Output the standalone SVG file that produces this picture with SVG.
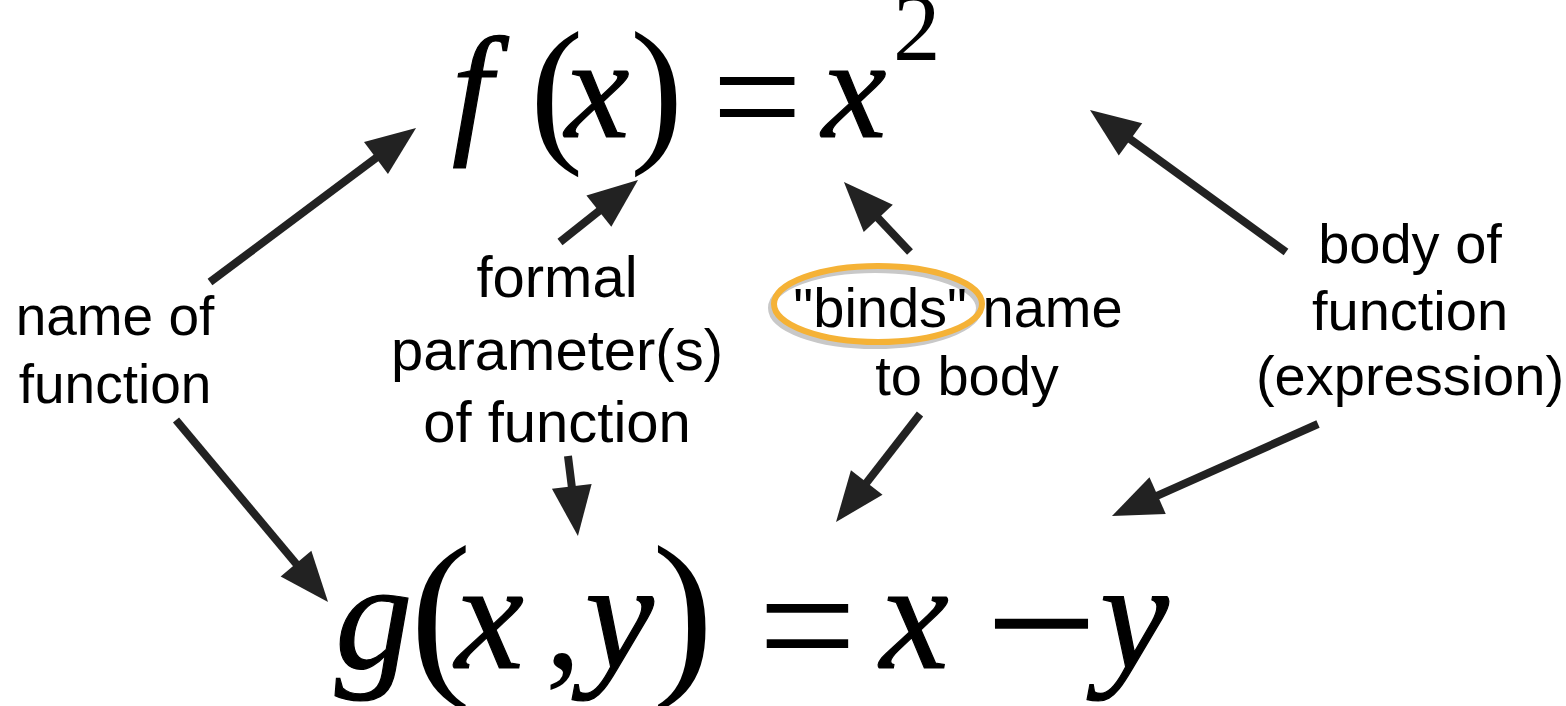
<svg xmlns="http://www.w3.org/2000/svg" width="1566" height="706" viewBox="0 0 1566 706">
<style>
.lbl{font-family:"Liberation Sans",Arial,sans-serif;font-size:56px;fill:#000;text-anchor:middle}
.mi{font-family:"Liberation Serif","Times New Roman",serif;font-style:italic;fill:#000;stroke:#000;stroke-width:1.2}
.mn{font-family:"Liberation Serif","Times New Roman",serif;fill:#000}
.conn{stroke:#222;stroke-width:8;fill:none;marker-end:url(#ah)}
</style>
<defs>
<marker id="ah" viewBox="0 0 50 40" refX="10" refY="20" markerWidth="50" markerHeight="40" markerUnits="userSpaceOnUse" orient="auto" overflow="visible">
<path d="M0,0 L50,20 L0,40 Z" fill="#222"/>
</marker>
</defs>
<rect width="1566" height="706" fill="#fff"/>
<g id="eq-f">
<text class="mi" x="452" y="137" font-size="145">f</text>
<text class="mn" x="530" y="143" font-size="160">(</text>
<text class="mi" x="565" y="137" font-size="145">x</text>
<text class="mn" x="630" y="143" font-size="160">)</text>
<text class="mn" x="712" y="150" font-size="160">=</text>
<text class="mi" x="822" y="137" font-size="145">x</text>
<text class="mn" x="893" y="60" font-size="95">2</text>
</g>
<g id="eq-g">
<text class="mi" x="335" y="668" font-size="155">g</text>
<text class="mn" x="410" y="673" font-size="185">(</text>
<text class="mi" x="455" y="668" font-size="155">x</text>
<text class="mn" x="545" y="668" font-size="145">,</text>
<text class="mi" x="585" y="668" font-size="155">y</text>
<text class="mn" x="652" y="673" font-size="185">)</text>
<text class="mn" x="758" y="684" font-size="175">=</text>
<text class="mi" x="880" y="668" font-size="155">x</text>
<text class="mn" x="985" y="690" font-size="200">−</text>
<text class="mi" x="1100" y="668" font-size="155">y</text>
</g>
<g id="name-of-function">
<text class="lbl" x="115" y="335" style="font-size:55px">name of</text>
<text class="lbl" x="115" y="403" style="font-size:55px">function</text>
</g>
<g id="formal-parameters">
<text class="lbl" x="557" y="297" style="font-size:58px">formal</text>
<text class="lbl" x="557" y="370" style="font-size:58px">parameter(s)</text>
<text class="lbl" x="557" y="442" style="font-size:58px">of function</text>
</g>
<g id="binds">
<ellipse cx="875" cy="308" rx="104" ry="38" fill="none" stroke="#c8c8c8" stroke-width="6"/>
<ellipse cx="878" cy="304" rx="104" ry="38" fill="none" stroke="#F5B236" stroke-width="6"/>
<text class="lbl" x="958" y="327">"binds" name</text>
<text class="lbl" x="967" y="395">to body</text>
</g>
<g id="body-of-function">
<text class="lbl" x="1410" y="263">body of</text>
<text class="lbl" x="1410" y="330">function</text>
<text class="lbl" x="1410" y="395">(expression)</text>
</g>
<g id="connectors">
<line class="conn" x1="210" y1="282" x2="384" y2="152"/>
<line class="conn" x1="560" y1="242" x2="606.7" y2="204.9"/>
<line class="conn" x1="910" y1="252" x2="871.4" y2="211.1"/>
<line class="conn" x1="1286" y1="252" x2="1122.4" y2="133.5"/>
<line class="conn" x1="176" y1="420" x2="302.4" y2="571.3"/>
<line class="conn" x1="568" y1="456" x2="573" y2="496.3"/>
<line class="conn" x1="920" y1="414" x2="860.6" y2="490.4"/>
<line class="conn" x1="1318" y1="424" x2="1148.5" y2="499.7"/>
</g>
</svg>
